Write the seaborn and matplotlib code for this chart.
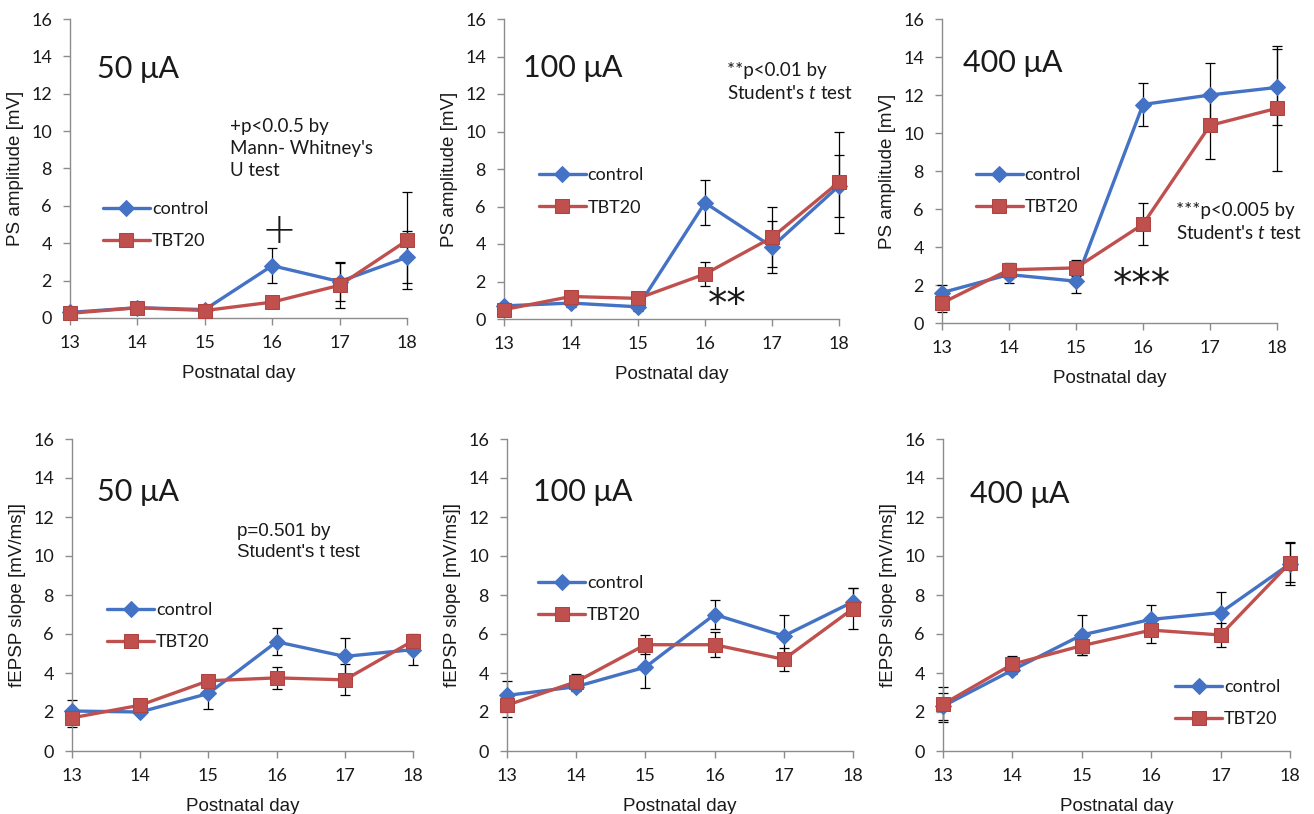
import matplotlib
matplotlib.use("Agg")
import matplotlib.pyplot as plt
import seaborn as sns

sns.set_theme(style="white")
plt.rcParams['font.family'] = ['Lato', 'DejaVu Sans']
plt.rcParams['mathtext.fontset'] = 'custom'
plt.rcParams['mathtext.it'] = 'Lato:italic'
plt.rcParams['mathtext.rm'] = 'Lato'

days = [13, 14, 15, 16, 17, 18]
day_labels = ["13", "14", "15", "16", "17", "18"]
series_names = ["control", "TBT20"]

ps50_ctrl = [0.3, 0.55, 0.45, 2.8, 1.95, 3.25]
ps50_ctrl_err = [0.1, 0.1, 0.1, 0.93, 1.05, 1.4]
ps50_tbt = [0.25, 0.55, 0.4, 0.85, 1.75, 4.15]
ps50_tbt_err = [0.1, 0.15, 0.1, 0.15, 1.2, 2.6]

ps100_ctrl = [0.7, 0.85, 0.65, 6.2, 3.85, 7.1]
ps100_ctrl_err = [0.15, 0.2, 0.2, 1.2, 1.4, 1.65]
ps100_tbt = [0.5, 1.2, 1.1, 2.4, 4.35, 7.3]
ps100_tbt_err = [0.15, 0.15, 0.15, 0.65, 1.6, 2.7]

ps400_ctrl = [1.6, 2.55, 2.2, 11.5, 12.0, 12.4]
ps400_ctrl_err = [0.4, 0.45, 0.6, 1.15, 1.7, 2.0]
ps400_tbt = [1.05, 2.8, 2.9, 5.2, 10.4, 11.3]
ps400_tbt_err = [0.45, 0.35, 0.4, 1.1, 1.75, 3.3]

fe50_ctrl = [2.05, 2.0, 2.95, 5.6, 4.85, 5.2]
fe50_ctrl_err = [0.55, 0.1, 0.8, 0.7, 0.95, 0.8]
fe50_tbt = [1.7, 2.35, 3.6, 3.75, 3.65, 5.65]
fe50_tbt_err = [0.45, 0.15, 0.2, 0.55, 0.8, 0.3]

fe100_ctrl = [2.85, 3.3, 4.3, 7.0, 5.9, 7.65]
fe100_ctrl_err = [0.75, 0.2, 1.05, 0.75, 1.05, 0.7]
fe100_tbt = [2.35, 3.55, 5.45, 5.45, 4.7, 7.3]
fe100_tbt_err = [0.6, 0.4, 0.5, 0.65, 0.6, 1.05]

fe400_ctrl = [2.3, 4.15, 5.95, 6.75, 7.1, 9.6]
fe400_ctrl_err = [0.7, 0.2, 1.05, 0.75, 1.05, 1.1]
fe400_tbt = [2.4, 4.45, 5.4, 6.2, 5.95, 9.65]
fe400_tbt_err = [0.9, 0.4, 0.5, 0.65, 0.6, 1.0]

yticks = [0, 2, 4, 6, 8, 10, 12, 14, 16]

BLUE = "#4472C4"
RED = "#C0504D"
AXC = "#8c8c8c"
TXT = "#1a1a1a"

W, H = 1314, 814
fig = plt.figure(figsize=(W / 100, H / 100), dpi=100)


def px_axes(x0, x1, ytop, ybot):
    return fig.add_axes([x0 / W, (H - ybot) / H, (x1 - x0) / W, (ybot - ytop) / H])


panels = [
    dict(box=(70, 407, 19, 318), c=ps50_ctrl, ce=ps50_ctrl_err, t=ps50_tbt, te=ps50_tbt_err,
         ylabel="PS amplitude [mV]", title="50 μA", tpos=(13.4, 13.3), leg=(0.098, 0.311)),
    dict(box=(504, 839, 19, 319), c=ps100_ctrl, ce=ps100_ctrl_err, t=ps100_tbt, te=ps100_tbt_err,
         ylabel="PS amplitude [mV]", title="100 μA", tpos=(13.28, 13.4), leg=(0.104, 0.425)),
    dict(box=(942, 1277, 19, 323), c=ps400_ctrl, ce=ps400_ctrl_err, t=ps400_tbt, te=ps400_tbt_err,
         ylabel="PS amplitude [mV]", title="400 μA", tpos=(13.31, 13.7), leg=(0.101, 0.433)),
    dict(box=(72, 413, 439, 751), c=fe50_ctrl, ce=fe50_ctrl_err, t=fe50_tbt, te=fe50_tbt_err,
         ylabel="fEPSP slope [mV/ms]]", title="50 μA", tpos=(13.37, 13.3), leg=(0.103, 0.40)),
    dict(box=(507, 853, 439, 751), c=fe100_ctrl, ce=fe100_ctrl_err, t=fe100_tbt, te=fe100_tbt_err,
         ylabel="fEPSP slope [mV/ms]]", title="100 μA", tpos=(13.38, 13.3), leg=(0.09, 0.487)),
    dict(box=(943, 1290, 439, 751), c=fe400_ctrl, ce=fe400_ctrl_err, t=fe400_tbt, te=fe400_tbt_err,
         ylabel="fEPSP slope [mV/ms]]", title="400 μA", tpos=(13.39, 13.2), leg=(0.669, 0.154)),
]

axes = []
for p in panels:
    ax = px_axes(*p["box"])
    axes.append(ax)
    ax.errorbar(days, p["c"], yerr=p["ce"], fmt="none", ecolor="black", elinewidth=0.9,
                capsize=3.5, capthick=0.9, clip_on=False, zorder=2)
    ax.errorbar(days, p["t"], yerr=p["te"], fmt="none", ecolor="black", elinewidth=0.9,
                capsize=3.5, capthick=0.9, clip_on=False, zorder=2)
    sns.lineplot(x=days, y=p["c"], ax=ax, color=BLUE, marker="D", markersize=8.5,
                 markeredgecolor=BLUE, linewidth=2.4, label=series_names[0], clip_on=False, zorder=3)
    sns.lineplot(x=days, y=p["t"], ax=ax, color=RED, marker="s", markersize=10,
                 markeredgecolor="#b04440", linewidth=2.4, label=series_names[1], clip_on=False, zorder=4)
    ax.set_xlim(13, 18)
    ax.set_ylim(0, 16)
    ax.set_xticks(days)
    ax.set_xticklabels(day_labels)
    ax.set_yticks(yticks)
    ax.set_yticklabels([str(v) for v in yticks])
    for s in ["top", "right"]:
        ax.spines[s].set_visible(False)
    for s in ["left", "bottom"]:
        ax.spines[s].set_color(AXC)
        ax.spines[s].set_linewidth(1.0)
    ax.tick_params(axis="both", which="major", direction="out", length=5, width=1.0,
                   color=AXC, labelsize=13, labelcolor=TXT, left=True, bottom=True)
    ax.tick_params(axis="x", pad=7)
    ax.tick_params(axis="y", pad=8)
    ax.set_xlabel("Postnatal day", fontsize=13.5, family="Liberation Sans", color=TXT, labelpad=10)
    ax.set_ylabel(p["ylabel"], fontsize=13.5, family="Liberation Sans", color=TXT, labelpad=5)
    ax.text(p["tpos"][0], p["tpos"][1], p["title"], fontsize=22, color=TXT, va="center", ha="left")
    ax.legend(loc="center left", bbox_to_anchor=p["leg"], frameon=False, fontsize=13,
              handlelength=2.6, handletextpad=0.1, labelspacing=0.9, borderpad=0, borderaxespad=0,
              labelcolor=TXT)

# annotations
axA, axB, axC, axD, axE, axF = axes
axA.text(15.37, 10.7, "+p<0.0.5 by\nMann- Whitney's\nU test", fontsize=13.5, color=TXT,
         va="top", ha="left", linespacing=1.35)
axA.text(16.1, 4.7, "+", fontsize=30, color=TXT, va="center", ha="center",
         family="DejaVu Sans", fontweight="light")
axB.text(16.33, 13.7, "**p<0.01 by\nStudent's $t$ test", fontsize=13.5, color=TXT,
         va="top", ha="left", linespacing=1.35)
axB.text(16.33, 0.75, "**", fontsize=28, color=TXT, va="center", ha="center", family="DejaVu Sans")
axC.text(16.5, 6.37, "***p<0.005 by\nStudent's $t$ test", fontsize=13.5, color=TXT,
         va="top", ha="left", linespacing=1.35)
axC.text(15.98, 2.0, "***", fontsize=28, color=TXT, va="center", ha="center", family="DejaVu Sans")
axD.text(15.42, 11.7, "p=0.501 by\nStudent's t test", fontsize=13.5, color=TXT,
         va="top", ha="left", linespacing=1.35, family="Liberation Sans")

fig.savefig("out.png", dpi=100)
